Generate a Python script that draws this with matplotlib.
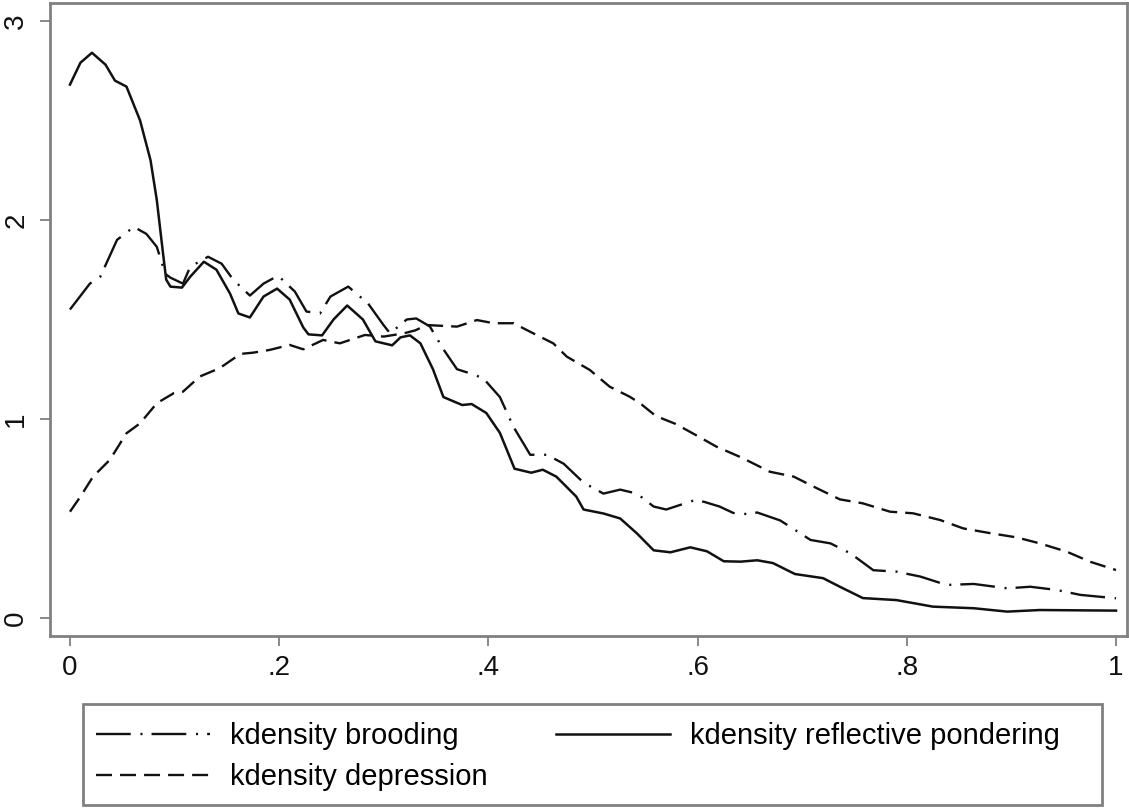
import matplotlib
matplotlib.use("Agg")
import matplotlib.pyplot as plt
from matplotlib.patches import Rectangle

plt.rcParams['font.family'] = ['Liberation Sans', 'DejaVu Sans']
plt.rcParams['lines.scale_dashes'] = False

# kdensity reflective pondering (solid)
refl_x = [0.000, 0.010, 0.021, 0.034, 0.043, 0.054, 0.067, 0.077, 0.083, 0.089, 0.092, 0.096,
          0.107, 0.115, 0.128, 0.140, 0.153, 0.161, 0.172, 0.185, 0.198, 0.210, 0.223, 0.228,
          0.241, 0.252, 0.265, 0.280, 0.292, 0.308, 0.316, 0.325, 0.335, 0.347, 0.357, 0.375,
          0.384, 0.398, 0.411, 0.425, 0.441, 0.452, 0.465, 0.484, 0.491, 0.510, 0.526, 0.542,
          0.558, 0.574, 0.593, 0.609, 0.625, 0.641, 0.657, 0.672, 0.693, 0.720, 0.736, 0.758,
          0.790, 0.825, 0.864, 0.896, 0.927, 1.000]
refl_y = [2.68, 2.79, 2.84, 2.78, 2.70, 2.67, 2.50, 2.30, 2.10, 1.83, 1.70, 1.665,
          1.66, 1.715, 1.79, 1.75, 1.63, 1.53, 1.51, 1.615, 1.655, 1.60, 1.46, 1.425,
          1.42, 1.50, 1.57, 1.50, 1.39, 1.37, 1.41, 1.42, 1.38, 1.25, 1.11, 1.07,
          1.075, 1.03, 0.93, 0.75, 0.73, 0.745, 0.71, 0.61, 0.545, 0.525, 0.50, 0.425,
          0.34, 0.33, 0.355, 0.335, 0.285, 0.283, 0.29, 0.276, 0.221, 0.20, 0.157, 0.10,
          0.09, 0.057, 0.049, 0.032, 0.040, 0.037]

# kdensity brooding (dash-dot)
brood_x = [0.000, 0.019, 0.029, 0.045, 0.061, 0.073, 0.083, 0.091, 0.096, 0.108, 0.115, 0.132,
           0.145, 0.156, 0.172, 0.185, 0.199, 0.215, 0.226, 0.239, 0.249, 0.266, 0.285, 0.300,
           0.306, 0.322, 0.331, 0.344, 0.357, 0.370, 0.382, 0.395, 0.411, 0.424, 0.440, 0.456,
           0.472, 0.491, 0.510, 0.526, 0.542, 0.558, 0.570, 0.596, 0.606, 0.621, 0.634, 0.641,
           0.657, 0.679, 0.698, 0.708, 0.727, 0.746, 0.768, 0.790, 0.813, 0.838, 0.864, 0.896,
           0.918, 0.943, 0.966, 1.000]
brood_y = [1.55, 1.68, 1.715, 1.90, 1.965, 1.93, 1.865, 1.73, 1.71, 1.68, 1.765, 1.815,
           1.78, 1.70, 1.62, 1.68, 1.72, 1.64, 1.54, 1.53, 1.615, 1.665, 1.58, 1.47,
           1.43, 1.50, 1.505, 1.465, 1.35, 1.25, 1.23, 1.205, 1.11, 0.96, 0.82, 0.82,
           0.775, 0.68, 0.625, 0.645, 0.625, 0.56, 0.545, 0.59, 0.584, 0.56, 0.528, 0.52,
           0.53, 0.49, 0.426, 0.392, 0.375, 0.325, 0.24, 0.233, 0.208, 0.166, 0.171, 0.149,
           0.157, 0.141, 0.116, 0.099]

# kdensity depression (dashed)
dep_x = [0.000, 0.010, 0.022, 0.038, 0.054, 0.067, 0.083, 0.099, 0.108, 0.124, 0.143, 0.163,
         0.175, 0.191, 0.210, 0.223, 0.242, 0.258, 0.282, 0.300, 0.319, 0.330, 0.341, 0.370,
         0.389, 0.405, 0.424, 0.443, 0.462, 0.475, 0.497, 0.516, 0.535, 0.545, 0.560, 0.579,
         0.598, 0.618, 0.642, 0.669, 0.692, 0.714, 0.736, 0.758, 0.784, 0.806, 0.832, 0.854,
         0.880, 0.905, 0.927, 0.953, 0.975, 1.000]
dep_y = [0.534, 0.61, 0.71, 0.794, 0.928, 0.978, 1.079, 1.129, 1.137, 1.213, 1.255, 1.327,
         1.333, 1.347, 1.372, 1.35, 1.397, 1.38, 1.422, 1.414, 1.43, 1.445, 1.472, 1.464,
         1.497, 1.481, 1.481, 1.43, 1.38, 1.313, 1.246, 1.162, 1.112, 1.079, 1.015, 0.975,
         0.92, 0.861, 0.806, 0.735, 0.71, 0.652, 0.596, 0.576, 0.534, 0.526, 0.492, 0.45,
         0.426, 0.405, 0.375, 0.333, 0.283, 0.241]

xticks = [0, 0.2, 0.4, 0.6, 0.8, 1.0]
xticklabels = ['0', '.2', '.4', '.6', '.8', '1']
yticks = [0, 1, 2, 3]
yticklabels = ['0', '1', '2', '3']

W, H = 1129, 809
fig = plt.figure(figsize=(W / 100, H / 100), dpi=100)
ax = fig.add_axes([50 / W, 1 - 636 / H, 1077 / W, 633 / H])

lb, = ax.plot(brood_x, brood_y, color='#111111', lw=1.7,
              linestyle=(0, (25, 7, 1.5, 6.5)), label='kdensity brooding')
ld, = ax.plot(dep_x, dep_y, color='#111111', lw=1.7,
              linestyle=(0, (11.5, 5.8)), label='kdensity depression')
lr, = ax.plot(refl_x, refl_y, color='#111111', lw=1.8,
              label='kdensity reflective pondering')

ax.set_xlim(-0.0191, 1.0105)
ax.set_ylim(-0.0905, 3.09)
ax.set_xticks(xticks)
ax.set_xticklabels(xticklabels)
ax.set_yticks(yticks)
ax.set_yticklabels(yticklabels, rotation=90, va='center')

for s in ax.spines.values():
    s.set_color('#808080')
    s.set_linewidth(2)
ax.tick_params(direction='out', length=7, width=1.3, color='#808080',
               labelsize=20, labelcolor='#111111')
ax.tick_params(axis='x', pad=7)
ax.tick_params(axis='y', pad=8)

# legend box like Stata
fig.patches.append(Rectangle((83 / W, 1 - 805 / H), (1102 - 83) / W, (805 - 704) / H,
                             transform=fig.transFigure, fill=False,
                             edgecolor='#808080', lw=2))
fig.legend([lb, ld, lr], [lb.get_label(), ld.get_label(), lr.get_label()],
           ncol=2, loc='upper left', bbox_to_anchor=(96 / W, 1 - 722 / H),
           frameon=False, fontsize=21, handlelength=3.9, handletextpad=0.69,
           columnspacing=2.35, labelspacing=0.45, borderaxespad=0, borderpad=0)

fig.savefig('out.png', dpi=100, facecolor='white')
